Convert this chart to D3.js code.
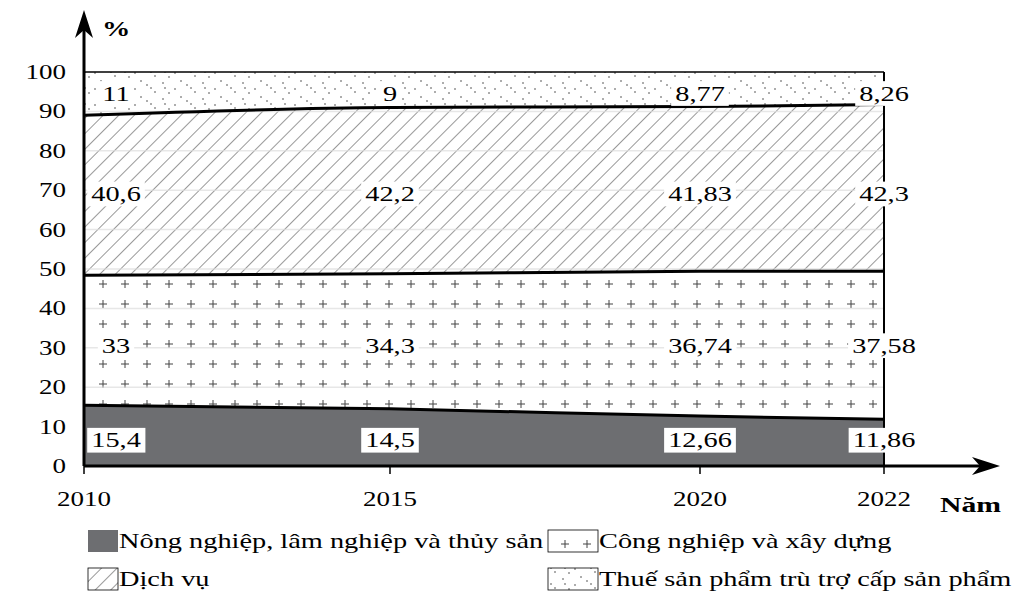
<!DOCTYPE html>
<html><head><meta charset="utf-8">
<script src="https://cdn.jsdelivr.net/npm/d3@7"></script>
<style>body{margin:0;background:#fff}text{font-family:"Liberation Serif","Times New Roman",serif}</style>
</head><body>
<svg id="chart" width="1019" height="609"></svg>
<script>
// ---------------- Дані ----------------
const years = [2010, 2015, 2020, 2022];
const nongNghiep = [15.4, 14.5, 12.66, 11.86];
const congNghiep = [33, 34.3, 36.74, 37.58];
const dichVu = [40.6, 42.2, 41.83, 42.3];
const thue = [11, 9, 8.77, 8.26];
const yTicks = [0, 10, 20, 30, 40, 50, 60, 70, 80, 90, 100];
const seriesNames = ["Nông nghiệp, lâm nghiệp và thủy sản", "Công nghiệp và xây dựng", "Dịch vụ", "Thuế sản phẩm trù trợ cấp sản phẩm"];

const svg = d3.select("#chart");
// вісь років у оригіналі не рівномірна
const x = d3.scaleLinear().domain(years).range([84, 390, 700, 884]);
const y = d3.scaleLinear().domain([0, 100]).range([466, 72]);
const SX = 1.35;

// розтягнутий текст, як у оригіналі
function txt(g, px, py, s, size, anchor, bold) {
  return g.append("text").attr("transform", `translate(${px},${py}) scale(${SX},1)`)
    .attr("text-anchor", anchor || "start").attr("font-size", size)
    .attr("font-weight", bold ? "bold" : null).text(s);
}

const rows = years.map((yr, i) => ({ year: yr, a: nongNghiep[i], b: congNghiep[i], c: dichVu[i], d: thue[i] }));
const stack = d3.stack().keys(["a", "b", "c", "d"])(rows);

// Візерунки
const defs = svg.append("defs");
const hatch = defs.append("pattern").attr("id", "hatch").attr("patternUnits", "userSpaceOnUse")
  .attr("width", 11).attr("height", 11).attr("patternTransform", "rotate(45)");
hatch.append("rect").attr("width", 11).attr("height", 11).attr("fill", "#fff");
hatch.append("line").attr("x1", 0).attr("y1", 0).attr("x2", 0).attr("y2", 11).attr("stroke", "#333").attr("stroke-width", 1);
const plus = defs.append("pattern").attr("id", "plus").attr("patternUnits", "userSpaceOnUse")
  .attr("width", 22).attr("height", 20).attr("x", 84 + 8).attr("y", 14);
plus.append("rect").attr("width", 22).attr("height", 20).attr("fill", "#fff");
plus.append("path").attr("d", "M11,6V14M7,10H15").attr("stroke", "#444").attr("stroke-width", 1);
const dots = defs.append("pattern").attr("id", "dots").attr("patternUnits", "userSpaceOnUse")
  .attr("width", 40).attr("height", 16);
dots.append("rect").attr("width", 40).attr("height", 16).attr("fill", "#fff");
[[3, 3], [15, 9], [27, 5], [35, 12], [9, 13], [21, 1], [31, 8], [5, 8]].forEach(p =>
  dots.append("circle").attr("cx", p[0]).attr("cy", p[1]).attr("r", 0.8).attr("fill", "#444"));

const fills = ["#6d6e71", "url(#plus)", "url(#hatch)", "url(#dots)"];
const area = d3.area().x(d => x(d.data.year)).y0(d => y(d[0])).y1(d => y(d[1])).curve(d3.curveMonotoneX);

svg.append("g").selectAll("path").data(stack.slice(1)).join("path")
  .attr("d", area).attr("fill", (d, i) => fills[i + 1]);

// Сітка
svg.append("g").selectAll("line").data(yTicks.filter(t => t > 0 && t < 100)).join("line")
  .attr("x1", x(2010)).attr("x2", x(2022)).attr("y1", d => y(d)).attr("y2", d => y(d))
  .attr("stroke", "#ddd").attr("stroke-width", 1.5).attr("opacity", 0.7);

svg.append("path").datum(stack[0]).attr("d", area).attr("fill", fills[0]);

// Межі
const line = d3.line().x(d => x(d.data.year)).y(d => y(d[1])).curve(d3.curveMonotoneX);
svg.append("g").selectAll("path").data(stack.slice(0, 3)).join("path")
  .attr("d", line).attr("fill", "none").attr("stroke", "#000").attr("stroke-width", 3);
svg.append("line").attr("x1", x(2010)).attr("x2", x(2022)).attr("y1", y(100)).attr("y2", y(100)).attr("stroke", "#000").attr("stroke-width", 1.5);
svg.append("line").attr("x1", x(2022)).attr("x2", x(2022)).attr("y1", y(100)).attr("y2", y(0)).attr("stroke", "#000").attr("stroke-width", 2);

// Осі
svg.append("line").attr("x1", x(2010)).attr("x2", x(2010)).attr("y1", y(0)).attr("y2", 25).attr("stroke", "#000").attr("stroke-width", 3);
svg.append("path").attr("d", `M${x(2010)},10L${x(2010) - 9},38L${x(2010)},30L${x(2010) + 9},38Z`).attr("fill", "#000");
svg.append("line").attr("x1", x(2010)).attr("x2", 985).attr("y1", y(0)).attr("y2", y(0)).attr("stroke", "#000").attr("stroke-width", 3);
svg.append("path").attr("d", `M1000,${y(0)}L972,${y(0) - 9}L980,${y(0)}L972,${y(0) + 9}Z`).attr("fill", "#000");
svg.append("g").selectAll("line").data(years).join("line")
  .attr("x1", d => x(d)).attr("x2", d => x(d)).attr("y1", y(0)).attr("y2", y(0) + 8).attr("stroke", "#000").attr("stroke-width", 1.5);

const axisG = svg.append("g");
yTicks.forEach(t => txt(axisG, 66, y(t) + 7, t, 20, "end"));
years.forEach(yr => txt(axisG, x(yr), 506, yr, 20, "middle"));
txt(axisG, 102, 36, "%", 21, "start", true);
txt(axisG, 940, 512, "Năm", 22, "start", true);

// Підписи значень
const labelY = [6.5, 30.5, 69, 94.5];
const labelX = yr => yr === 2010 ? x(2010) + 32 : yr === 2022 ? x(2022) : x(yr);
stack.forEach((s, k) => {
  const g = svg.append("g");
  s.forEach((d, i) => {
    const v = d[1] - d[0];
    const label = String(+v.toFixed(2)).replace(".", ",");
    const cx = labelX(years[i]);
    const t = txt(g, cx, y(labelY[k]) + 7, label, 21, "middle");
    const bb = t.node().getBBox();
    g.insert("rect", "text").attr("x", cx + bb.x * SX - 4).attr("y", y(labelY[k]) + 7 + bb.y - 1)
      .attr("width", bb.width * SX + 8).attr("height", bb.height + 2).attr("fill", "#fff");
  });
});

// Легенда
const legend = [
  { x: 88, y: 540, w: 30 }, { x: 548, y: 540, w: 50 },
  { x: 88, y: 578, w: 30 }, { x: 548, y: 578, w: 50 }
];
const lg = svg.append("g");
legend.forEach((l, i) => {
  lg.append("rect").attr("x", l.x).attr("y", l.y - 10).attr("width", l.w).attr("height", 22)
    .attr("fill", fills[i]).attr("stroke", i === 0 ? "none" : "#000").attr("stroke-width", 0.8);
  txt(lg, l.x + l.w + 1, l.y + 8, seriesNames[i], 21);
});
</script>
</body></html>
